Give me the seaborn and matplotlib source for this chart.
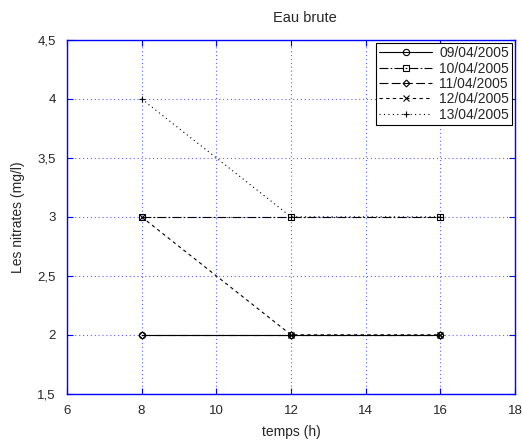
import matplotlib
matplotlib.use("Agg")
import matplotlib.pyplot as plt
import seaborn as sns
import pandas as pd

temps = [8, 12, 16]
s0904 = [2, 2, 2]
s1004 = [3, 3, 3]
s1104 = [2, 2, 2]
s1204 = [3, 2, 2]
s1304 = [4, 3, 3]
labels = ["09/04/2005", "10/04/2005", "11/04/2005", "12/04/2005", "13/04/2005"]
series = [s0904, s1004, s1104, s1204, s1304]
xticks = [6, 8, 10, 12, 14, 16, 18]
yticks = [1.5, 2, 2.5, 3, 3.5, 4, 4.5]

sns.set_style("white")
plt.rcParams['font.family'] = ['Liberation Sans', 'DejaVu Sans']
plt.rcParams['font.size'] = 9

fig = plt.figure(figsize=(5.22, 4.43), dpi=100)
ax = fig.add_axes([0.128, 0.111, 0.859, 0.799])

styles = [
    ("-", "o", 4.5),
    ((0, (8, 2, 1.5, 2)), "s", 4.5),
    ((0, (8, 3)), "D", 3.5),
    ((0, (3, 3)), "x", 5),
    ((0, (1, 3)), "+", 5),
]

for lab, vals, (ls, mk, ms) in zip(labels, series, styles):
    df = pd.DataFrame({"temps": temps, "nitrates": vals})
    sns.lineplot(data=df, x="temps", y="nitrates", ax=ax, color="black",
                 linestyle=ls, marker=mk, linewidth=0.8, markersize=ms,
                 markerfacecolor="none", markeredgecolor="black",
                 markeredgewidth=0.8, label=lab)

ax.set_xlim(6, 18)
ax.set_ylim(1.5, 4.5)
ax.set_xticks(xticks)
ax.set_yticks(yticks)
ax.set_xticklabels([str(t) for t in xticks])
ax.set_yticklabels([("%g" % t).replace(".", ",") for t in yticks])
ax.grid(True, color="#3a3aff", linestyle=(0, (1, 2.5)), linewidth=0.8, alpha=0.8)
for sp in ax.spines.values():
    sp.set_color("blue")
    sp.set_linewidth(1.0)
ax.tick_params(direction="in", length=4, color="blue", labelsize=9.5, pad=8,
               top=True, right=True, left=True, bottom=True)
ax.set_title("Eau brute", fontsize=10.5, pad=13, x=0.53)
ax.set_xlabel("temps (h)", fontsize=10, labelpad=6)
ax.set_ylabel("Les nitrates (mg/l)", fontsize=10, labelpad=9)

leg = ax.legend(loc="upper right", fontsize=10, frameon=True, fancybox=False,
                edgecolor="black", framealpha=1, borderaxespad=0.2,
                handlelength=3.8, handletextpad=0.5, labelspacing=0.1,
                borderpad=0.25)
leg.get_frame().set_linewidth(0.8)

fig.savefig("out.png", dpi=100)
